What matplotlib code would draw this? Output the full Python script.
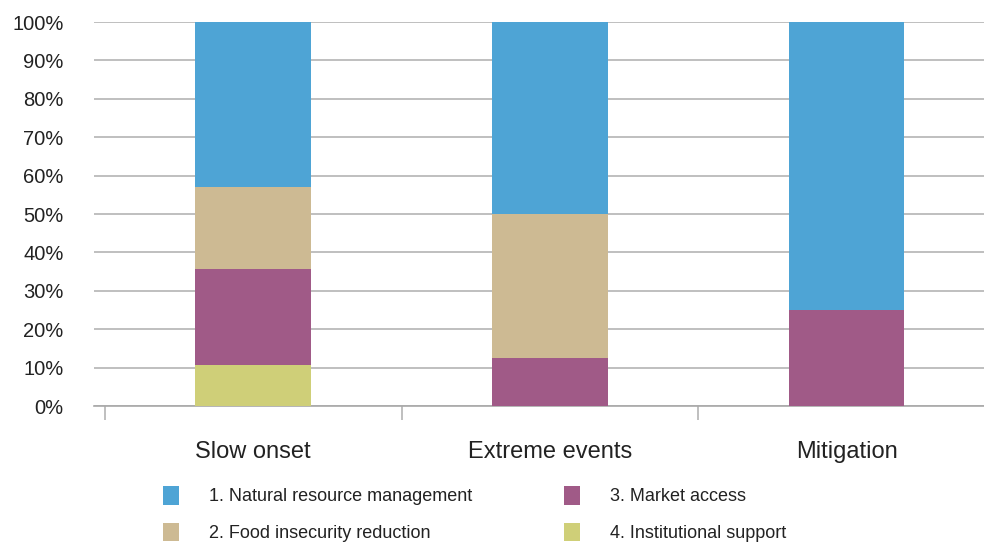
import matplotlib.pyplot as plt
import numpy as np

plt.rcParams['font.family'] = ['Liberation Sans', 'DejaVu Sans']

# data (percent of actions per category)
categories = ['Slow onset', 'Extreme events', 'Mitigation']
series = ['1. Natural resource management', '2. Food insecurity reduction',
          '3. Market access', '4. Institutional support']
institutional = [10.7, 0.0, 0.0]
market = [25.0, 12.5, 25.0]
food = [21.4, 37.5, 0.0]
natural = [42.9, 50.0, 75.0]

colors = {
    'natural': '#4ea4d5',
    'food': '#cdba93',
    'market': '#a05a87',
    'institutional': '#cfcf78',
}

fig = plt.figure(figsize=(9.84, 5.42), dpi=100)
ax = fig.add_axes([94 / 984, 1 - 406 / 542, 890 / 984, 384 / 542])

x = np.arange(len(categories))
w = 0.39
b_inst = ax.bar(x, institutional, w, color=colors['institutional'], zorder=3)
bottom = np.array(institutional)
b_mkt = ax.bar(x, market, w, bottom=bottom, color=colors['market'], zorder=3)
bottom = bottom + np.array(market)
b_food = ax.bar(x, food, w, bottom=bottom, color=colors['food'], zorder=3)
bottom = bottom + np.array(food)
b_nat = ax.bar(x, natural, w, bottom=bottom, color=colors['natural'], zorder=3)

ax.set_ylim(0, 100)
ax.set_xlim(-0.537, 2.463)
ax.set_yticks(np.arange(0, 101, 10))
ax.set_yticklabels([f'{v}%' for v in range(0, 101, 10)], fontsize=14.5, color='#222222')
ax.yaxis.grid(True, color='#b4b4b4', linewidth=1.2, zorder=0)
ax.tick_params(axis='y', length=0, pad=22)

# category boundaries as ticks, labels at centers
ax.set_xticks([-0.5, 0.5, 1.5])
ax.set_xticklabels([])
ax.set_xticks(x, minor=True)
ax.set_xticklabels(categories, minor=True, fontsize=17, color='#222222')
ax.tick_params(axis='x', which='major', length=10, width=1.2, color='#b4b4b4')
ax.tick_params(axis='x', which='minor', length=0, pad=25)

for s in ['top', 'right', 'left']:
    ax.spines[s].set_visible(False)
ax.spines['bottom'].set_color('#a8a8a8')
ax.spines['bottom'].set_linewidth(1.2)

fig.legend([b_nat, b_food, b_mkt, b_inst], series, ncol=2, frameon=False,
           loc='upper left', bbox_to_anchor=(163 / 984, 1 - 486 / 542),
           fontsize=13, handlelength=0.89, handleheight=1.2,
           handletextpad=1.67, columnspacing=5.05, labelspacing=0.95,
           borderpad=0, borderaxespad=0, labelcolor='#222222')

fig.savefig('out.png', dpi=100)
